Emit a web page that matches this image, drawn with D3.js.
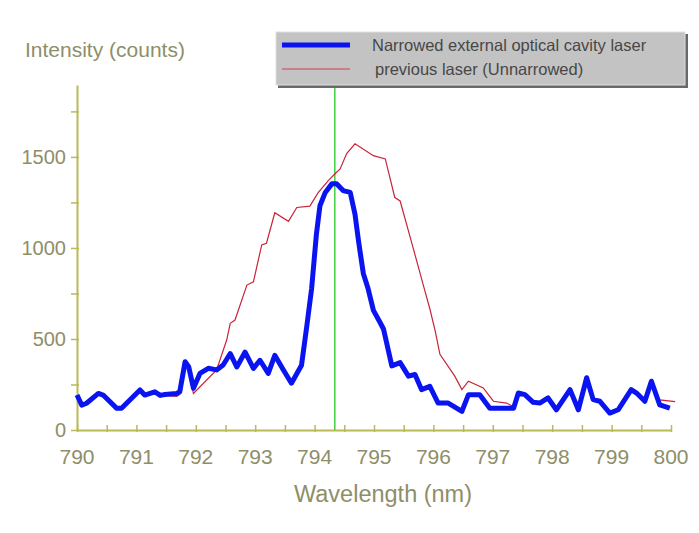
<!DOCTYPE html>
<html>
<head>
<meta charset="utf-8">
<script src="https://cdn.jsdelivr.net/npm/d3@7"></script>
<style>
  body { margin: 0; background: #fff; }
  text { font-family: "Liberation Sans", Arial, sans-serif; }
</style>
</head>
<body>
<div id="chart"></div>
<script>
// Narrowed laser (blue, thick)
var narrowWl = [790.00, 790.08, 790.16, 790.36, 790.44, 790.67, 790.75, 791.06, 791.14, 791.31,
  791.40, 791.48, 791.68, 791.73, 791.82, 791.88, 791.96, 792.07, 792.21, 792.35,
  792.46, 792.58, 792.69, 792.83, 792.97, 793.08, 793.22, 793.33, 793.47, 793.61,
  793.78, 793.87, 793.95, 794.03, 794.09, 794.18, 794.29, 794.37, 794.48, 794.60,
  794.68, 794.74, 794.82, 794.90, 794.99, 795.10, 795.16, 795.30, 795.44, 795.58,
  795.69, 795.80, 795.94, 796.08, 796.25, 796.48, 796.59, 796.78, 796.95, 797.23,
  797.35, 797.43, 797.54, 797.68, 797.79, 797.93, 798.07, 798.30, 798.44, 798.58,
  798.69, 798.80, 798.97, 799.11, 799.33, 799.42, 799.56, 799.67, 799.81, 799.98];
var narrowCounts = [192, 137, 147, 201, 192, 119, 119, 220, 192, 210,
  190, 195, 201, 210, 375, 348, 229, 311, 339, 330,
  357, 420, 346, 428, 338, 383, 311, 410, 332, 257,
  356, 574, 777, 1074, 1232, 1305, 1352, 1352, 1315, 1305,
  1185, 1037, 860, 777, 657, 592, 555, 352, 370, 296,
  305, 222, 240, 148, 148, 102, 194, 194, 120, 120,
  120, 203, 194, 152, 148, 176, 111, 222, 111, 287,
  167, 158, 93, 111, 222, 203, 158, 268, 138, 120];

// Previous laser (red, thin)
var prevWl = [790.00, 790.08, 790.16, 790.36, 790.44, 790.67, 790.75, 791.06, 791.14, 791.31,
  791.40, 791.48, 791.68, 791.73, 791.82, 791.88, 791.96, 792.35, 792.52, 792.58,
  792.66, 792.86, 792.97, 793.11, 793.19, 793.33, 793.56, 793.70, 793.92, 794.06,
  794.23, 794.34, 794.43, 794.54, 794.68, 794.99, 795.19, 795.35, 795.44, 795.66,
  795.83, 795.94, 796.03, 796.11, 796.36, 796.48, 796.59, 796.84, 797.01, 797.23,
  797.35, 797.43, 797.54, 797.68, 797.79, 797.93, 798.07, 798.30, 798.44, 798.58,
  798.69, 798.80, 798.97, 799.11, 799.33, 799.42, 799.56, 799.67, 799.81, 800.07];
var prevCounts = [185, 130, 145, 200, 190, 115, 117, 215, 185, 205,
  185, 190, 184, 195, 360, 330, 201, 330, 494, 586,
  604, 796, 814, 1017, 1026, 1193, 1146, 1222, 1230, 1304,
  1370, 1406, 1434, 1518, 1572, 1507, 1489, 1277, 1258, 999,
  796, 666, 545, 416, 296, 222, 268, 231, 158, 148,
  128, 200, 192, 155, 150, 172, 115, 218, 115, 282,
  170, 158, 96, 112, 218, 200, 160, 262, 165, 156];

var xTicks = [790, 791, 792, 793, 794, 795, 796, 797, 798, 799, 800];
var yTicks = [0, 500, 1000, 1500];
var markerWl = 794.34;
var legendLabels = ["Narrowed external optical cavity laser", "previous laser (Unnarrowed)"];

var width = 699, height = 533;
var axisColor = "#b9b956", textColor = "#8e8e68";

var svg = d3.select("#chart").append("svg")
  .attr("width", width)
  .attr("height", height);

var x = d3.scaleLinear().domain([790, 800]).range([77, 671]);
var y = d3.scaleLinear().domain([0, 1895]).range([430, 85]);

// Axes
var xAxis = svg.append("g")
  .attr("transform", "translate(0," + y(0) + ")")
  .call(d3.axisBottom(x).tickValues(d3.range(790, 800.01, 0.5)).tickSize(0).tickFormat(""));
xAxis.select(".domain").attr("stroke", axisColor).attr("stroke-width", 2);
xAxis.selectAll(".tick line").attr("stroke", axisColor).attr("stroke-width", 1.5)
  .attr("y1", -5).attr("y2", 2);

var yAxis = svg.append("g")
  .attr("transform", "translate(" + x(790) + ",0)")
  .call(d3.axisLeft(y).tickValues(d3.range(0, 1751, 250)).tickSize(0).tickFormat(""));
yAxis.select(".domain").attr("stroke", axisColor).attr("stroke-width", 2);
yAxis.selectAll(".tick line").attr("stroke", axisColor).attr("stroke-width", 1.5)
  .attr("x1", -6).attr("x2", 2);

// Tick labels
svg.append("g").selectAll("text").data(xTicks).enter().append("text")
  .attr("x", function(d) { return x(d); })
  .attr("y", 464)
  .attr("text-anchor", "middle")
  .attr("font-size", 21)
  .attr("fill", textColor)
  .text(function(d) { return d; });

svg.append("g").selectAll("text").data(yTicks).enter().append("text")
  .attr("x", 66)
  .attr("y", function(d) { return y(d) + 7; })
  .attr("text-anchor", "end")
  .attr("font-size", 20)
  .attr("fill", textColor)
  .text(function(d) { return d; });

// Axis titles
svg.append("text")
  .attr("x", 25).attr("y", 57)
  .attr("font-size", 21)
  .attr("fill", textColor)
  .text("Intensity (counts)");

svg.append("text")
  .attr("x", 383).attr("y", 502)
  .attr("text-anchor", "middle")
  .attr("font-size", 23.5)
  .attr("fill", textColor)
  .text("Wavelength (nm)");

// Green marker line
svg.append("line")
  .attr("x1", x(markerWl)).attr("x2", x(markerWl))
  .attr("y1", 87).attr("y2", y(0))
  .attr("stroke", "#3fcf3f").attr("stroke-width", 1.5);

// Series
var line = d3.line()
  .x(function(d) { return x(d[0]); })
  .y(function(d) { return y(d[1]); });

svg.append("path")
  .datum(d3.zip(prevWl, prevCounts))
  .attr("fill", "none")
  .attr("stroke", "#c8243a")
  .attr("stroke-width", 1.2)
  .attr("d", line);

svg.append("path")
  .datum(d3.zip(narrowWl, narrowCounts))
  .attr("fill", "none")
  .attr("stroke", "#0a14f0")
  .attr("stroke-width", 5)
  .attr("stroke-linejoin", "round")
  .attr("d", line);

// Legend box
var legend = svg.append("g");
legend.append("rect")
  .attr("x", 278).attr("y", 34).attr("width", 410).attr("height", 54)
  .attr("fill", "#6a6a6a");
legend.append("rect")
  .attr("x", 276).attr("y", 32).attr("width", 409).attr("height", 53)
  .attr("fill", "#c3c3c3")
  .attr("stroke", "#e0e0e0").attr("stroke-width", 1);

legend.append("line")
  .attr("x1", 282).attr("x2", 350).attr("y1", 45).attr("y2", 45)
  .attr("stroke", "#0a14f0").attr("stroke-width", 5);
legend.append("line")
  .attr("x1", 282).attr("x2", 350).attr("y1", 69).attr("y2", 69)
  .attr("stroke", "#d23a4a").attr("stroke-width", 1.2);

legend.selectAll("text.lab").data(legendLabels).enter().append("text")
  .attr("class", "lab")
  .attr("x", function(d, i) { return i === 0 ? 372 : 375; })
  .attr("y", function(d, i) { return 51 + i * 24; })
  .attr("font-size", 16.5)
  .attr("fill", "#474747")
  .text(function(d) { return d; });
</script>
</body>
</html>
